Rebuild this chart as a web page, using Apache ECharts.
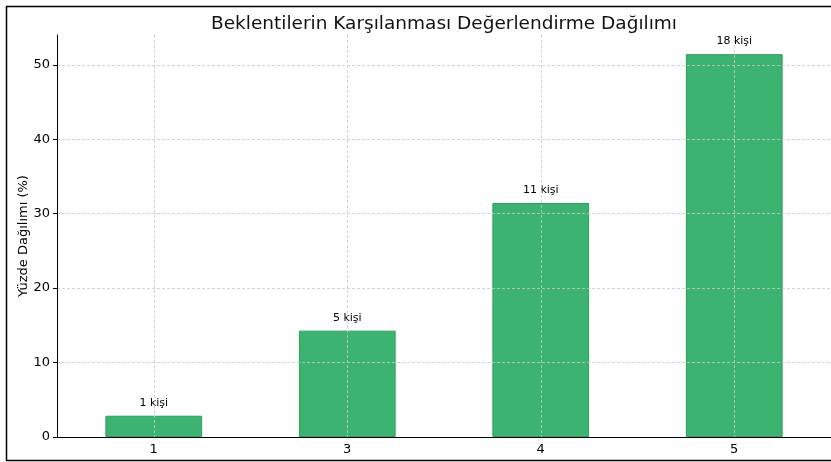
<!DOCTYPE html>
<html><head><meta charset="utf-8">
<script src="https://cdn.jsdelivr.net/npm/echarts@6/dist/echarts.min.js"></script>
<style>html,body{margin:0;padding:0;background:#fff}#c{width:831px;height:462px}</style>
</head><body><div id="c"></div>
<script>
const categories = ['1', '3', '4', '5'];
const percentages = [2.857, 14.286, 31.429, 51.429];
const counts = [1, 5, 11, 18];
const yTicks = [0, 10, 20, 30, 40, 50];

const chart = echarts.init(document.getElementById('c'), null, {renderer: 'canvas'});
const font = 'DejaVu Sans';
chart.setOption({
  animation: false,
  backgroundColor: '#fff',
  textStyle: {fontFamily: font},
  title: {
    text: 'Beklentilerin Karşılanması Değerlendirme Dağılımı',
    left: 439, textAlign: 'center', top: 10,
    textStyle: {fontFamily: font, fontSize: 18.5, fontWeight: 'normal', color: '#111'}
  },
  graphic: [{
    type: 'rect', z: 100,
    shape: {x: 6.5, y: 6.5, width: 840, height: 454},
    style: {fill: 'none', stroke: '#000', lineWidth: 1.5}
  }],
  grid: {left: 57, right: 0, top: 35, bottom: 25},
  xAxis: {
    type: 'category', data: categories, z: 5,
    axisLine: {lineStyle: {color: '#000', width: 1}},
    axisTick: {alignWithLabel: true, length: 4, lineStyle: {color: '#000'}},
    axisLabel: {color: '#000', fontSize: 13, margin: 6, fontFamily: font},
    splitLine: {show: true, alignWithLabel: true, lineStyle: {color: '#c8c8c8', type: [3, 2], width: 0.8}}
  },
  yAxis: {
    type: 'value', min: 0, max: 54, interval: 10, z: 5,
    name: 'Yüzde Dağılımı (%)', nameLocation: 'middle', nameGap: 27, nameRotate: 90,
    nameMoveOverlap: false,
    nameTextStyle: {fontSize: 13, color: '#000', fontFamily: font},
    axisLine: {show: true, lineStyle: {color: '#000', width: 1}},
    axisTick: {show: true, length: 4, lineStyle: {color: '#000'}},
    axisLabel: {color: '#000', fontSize: 13, margin: 7, fontFamily: font, showMaxLabel: false,
      formatter: v => yTicks.includes(v) ? String(v) : ''},
    splitLine: {show: true, showMaxLine: false, lineStyle: {color: '#c8c8c8', type: [3, 2], width: 0.8}}
  },
  series: [{
    type: 'bar', barWidth: '50%',
    data: percentages,
    itemStyle: {color: '#3cb371', borderColor: '#2e9e5e', borderWidth: 1},
    label: {
      show: true, position: 'top', distance: 7, fontSize: 11, color: '#000', fontFamily: font,
      formatter: p => counts[p.dataIndex] + ' kişi'
    }
  }]
});
</script></body></html>
